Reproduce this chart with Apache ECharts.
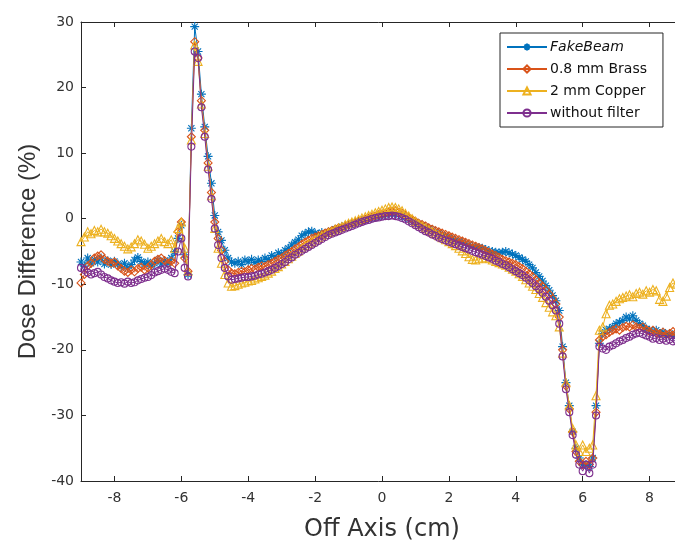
<!DOCTYPE html>
<html>
<head>
<meta charset="utf-8">
<script src="https://cdn.jsdelivr.net/npm/echarts@6.0.0/dist/echarts.min.js"></script>
<style>
html,body{margin:0;padding:0;background:#fff;}
#chart{width:675px;height:544px;}
</style>
</head>
<body>
<div id="chart"></div>
<script>
// Off-axis positions (cm)
const xs = [
-9.0,-8.9,-8.8,-8.7,-8.6,-8.5,-8.4,-8.3,-8.2,-8.1,-8.0,-7.9,-7.8,-7.7,-7.6,-7.5,-7.4,-7.3,-7.2,-7.1,
-7.0,-6.9,-6.8,-6.7,-6.6,-6.5,-6.4,-6.3,-6.2,-6.1,-6.0,-5.9,-5.8,-5.7,-5.6,-5.5,-5.4,-5.3,-5.2,-5.1,
-5.0,-4.9,-4.8,-4.7,-4.6,-4.5,-4.4,-4.3,-4.2,-4.1,-4.0,-3.9,-3.8,-3.7,-3.6,-3.5,-3.4,-3.3,-3.2,-3.1,
-3.0,-2.9,-2.8,-2.7,-2.6,-2.5,-2.4,-2.3,-2.2,-2.1,-2.0,-1.9,-1.8,-1.7,-1.6,-1.5,-1.4,-1.3,-1.2,-1.1,
-1.0,-0.9,-0.8,-0.7,-0.6,-0.5,-0.4,-0.3,-0.2,-0.1,0.0,0.1,0.2,0.3,0.4,0.5,0.6,0.7,0.8,0.9,
1.0,1.1,1.2,1.3,1.4,1.5,1.6,1.7,1.8,1.9,2.0,2.1,2.2,2.3,2.4,2.5,2.6,2.7,2.8,2.9,
3.0,3.1,3.2,3.3,3.4,3.5,3.6,3.7,3.8,3.9,4.0,4.1,4.2,4.3,4.4,4.5,4.6,4.7,4.8,4.9,
5.0,5.1,5.2,5.3,5.4,5.5,5.6,5.7,5.8,5.9,6.0,6.1,6.2,6.3,6.4,6.5,6.6,6.7,6.8,6.9,
7.0,7.1,7.2,7.3,7.4,7.5,7.6,7.7,7.8,7.9,8.0,8.1,8.2,8.3,8.4,8.5,8.6,8.7,8.8,8.9,
9.0
];

// Dose difference (%) per series
const fakeBeam = [
-6.6,-7.2,-6.0,-6.8,-6.2,-6.6,-6.0,-6.9,-6.4,-7.0,-6.5,-6.9,-7.3,-6.8,-7.5,-7.0,-6.3,-5.9,-6.5,-6.9,
-6.6,-7.2,-6.8,-6.3,-6.9,-6.4,-6.8,-6.0,-5.0,-3.0,
-1.0,-5.5,-8.5,13.8,29.3,25.5,19.0,14.0,9.5,5.4,0.5,-2.0,-3.3,-4.8,-6.0,-6.6,
-6.8,-6.5,-7.0,-6.3,-6.6,-6.2,-6.7,-6.3,-6.5,-6.0,
-6.2,-5.6,-5.8,-5.2,-5.4,-4.8,-4.5,-4.0,-3.6,-3.2,
-2.6,-2.3,-2.0,-1.9,-2.2,-2.4,-2.1,-2.3,-2.0,-1.9,
-1.6,-1.5,-1.2,-1.1,-0.9,-0.8,-0.6,-0.5,-0.3,-0.2,
0.0,0.1,0.3,0.4,0.5,0.6,0.7,0.8,0.7,0.6,
0.4,0.2,0.0,-0.3,-0.5,-0.8,-1.0,-1.2,-1.5,-1.7,
-2.0,-2.2,-2.5,-2.7,-2.9,-3.1,-3.3,-3.5,-3.6,-3.8,
-4.0,-4.2,-4.3,-4.4,-4.5,-4.7,-4.9,-5.0,-5.1,-5.2,
-5.1,-5.0,-5.2,-5.4,-5.6,-5.9,-6.2,-6.5,-7.0,-7.5,
-8.2,-8.8,-9.5,-10.2,-10.9,-11.7,-12.5,
-14.0,-19.5,-25.0,-28.5,-32.5,-35.0,-36.5,-37.5,-37.5,-37.8,-36.5,-28.5,-19.0,
-17.5,-17.0,-16.8,-16.5,-16.0,-15.8,-15.5,-15.0,-15.3,-14.8,
-15.5,-16.0,-16.3,-16.8,-17.0,-17.2,-17.0,-17.5,-17.3,-17.8,
-17.5,-18.0,-17.6,-17.8,-18.0
];
const brass = [
-9.8,-8.5,-7.2,-6.8,-6.0,-5.7,-5.5,-6.2,-6.5,-6.8,-6.6,-7.2,-7.6,-8.0,-8.2,-7.8,-8.1,-7.6,-7.4,-7.8,
-7.5,-7.0,-6.5,-6.2,-6.0,-6.4,-6.8,-6.5,-6.8,-2.0,
-0.5,-6.0,-8.0,12.5,27.0,24.5,18.0,13.5,8.5,4.0,-0.5,-3.0,-4.8,-6.5,-7.8,-8.3,
-8.4,-8.2,-8.0,-8.1,-7.8,-7.6,-7.7,-7.4,-7.2,-7.3,
-7.0,-6.8,-6.5,-6.2,-6.0,-5.6,-5.3,-5.0,-4.6,-4.3,
-3.9,-3.6,-3.3,-3.0,-2.8,-2.6,-2.4,-2.2,-2.0,-1.8,
-1.6,-1.4,-1.3,-1.1,-0.9,-0.7,-0.6,-0.4,-0.3,-0.1,
0.1,0.3,0.4,0.6,0.7,0.8,1.0,1.1,1.2,1.0,
0.8,0.5,0.2,-0.1,-0.4,-0.7,-0.9,-1.1,-1.4,-1.6,
-1.8,-2.0,-2.2,-2.4,-2.6,-2.8,-3.0,-3.2,-3.4,-3.6,
-3.8,-4.0,-4.2,-4.4,-4.6,-4.9,-5.1,-5.4,-5.6,-5.9,
-6.2,-6.4,-6.6,-6.8,-7.0,-7.3,-7.6,-8.0,-8.4,-8.8,
-9.3,-9.8,-10.3,-10.9,-11.5,-12.2,-13.0,
-15.0,-20.0,-25.5,-29.0,-32.5,-35.5,-37.0,-37.5,-37.0,-37.5,-36.5,-29.5,-18.5,
-18.0,-17.7,-17.3,-17.0,-16.8,-17.0,-16.6,-16.4,-16.5,-16.2,
-16.5,-16.7,-16.5,-16.9,-17.2,-17.0,-17.4,-17.6,-17.3,-17.7,
-17.5,-17.2,-17.4,-17.0,-16.8
];
const copper = [
-3.5,-2.8,-2.0,-2.3,-1.8,-2.0,-1.6,-2.0,-2.2,-2.6,-3.0,-3.4,-3.8,-4.2,-4.6,-4.3,-3.8,-3.2,-3.4,-3.9,
-4.5,-4.2,-3.8,-3.4,-3.0,-3.5,-3.8,-3.2,-4.5,-1.5,
-0.5,-4.5,-8.0,12.0,26.5,24.0,17.5,13.0,8.0,3.5,-1.5,-4.5,-6.8,-8.5,-9.8,-10.3,
-10.2,-10.0,-9.8,-9.7,-9.5,-9.4,-9.2,-9.0,-8.8,-8.6,
-8.3,-8.0,-7.6,-7.3,-6.9,-6.5,-6.1,-5.7,-5.3,-4.9,
-4.5,-4.1,-3.8,-3.5,-3.2,-2.9,-2.6,-2.4,-2.1,-1.9,
-1.6,-1.4,-1.2,-0.9,-0.7,-0.5,-0.3,-0.1,0.1,0.3,
0.5,0.7,0.9,1.1,1.3,1.5,1.7,1.8,1.7,1.5,
1.2,0.8,0.4,0.0,-0.4,-0.8,-1.1,-1.4,-1.7,-2.0,
-2.3,-2.6,-2.9,-3.2,-3.5,-3.8,-4.1,-4.5,-4.9,-5.3,
-5.8,-6.2,-6.3,-6.1,-6.0,-6.0,-6.1,-6.3,-6.5,-6.7,
-6.9,-7.1,-7.4,-7.7,-8.0,-8.4,-8.8,-9.3,-9.8,-10.3,
-10.8,-11.4,-12.0,-12.8,-13.5,-14.2,-14.8,
-16.5,-20.5,-25.0,-28.5,-32.0,-34.5,-35.5,-34.5,-35.5,-35.0,-34.5,-27.0,-17.0,
-16.5,-14.5,-13.2,-13.0,-12.6,-12.2,-12.0,-11.8,-11.6,-11.9,
-11.4,-11.2,-11.5,-11.0,-11.2,-10.8,-11.0,-12.3,-12.6,-11.8,
-10.5,-9.8,-10.0,-9.6,-9.5
];
const noFilter = [
-7.5,-7.8,-8.2,-8.5,-8.3,-8.1,-8.5,-8.9,-9.1,-9.4,-9.6,-9.8,-9.7,-9.9,-9.6,-9.8,-9.7,-9.4,-9.2,-9.0,
-8.9,-8.6,-8.2,-8.0,-7.8,-7.6,-7.8,-8.1,-8.3,-5.0,
-3.0,-7.5,-8.8,11.0,25.5,24.5,17.0,12.5,7.5,3.0,-1.5,-4.0,-6.0,-7.5,-8.8,-9.3,
-9.2,-9.1,-9.0,-8.9,-8.9,-8.8,-8.7,-8.5,-8.4,-8.2,
-8.0,-7.8,-7.5,-7.2,-6.9,-6.6,-6.2,-5.9,-5.5,-5.2,
-4.9,-4.6,-4.3,-4.0,-3.7,-3.4,-3.1,-2.8,-2.5,-2.3,
-2.1,-1.9,-1.7,-1.5,-1.3,-1.1,-0.9,-0.7,-0.5,-0.3,
-0.2,0.0,0.1,0.2,0.3,0.4,0.4,0.5,0.4,0.3,
0.1,-0.1,-0.4,-0.7,-1.0,-1.3,-1.6,-1.9,-2.1,-2.4,
-2.6,-2.9,-3.1,-3.3,-3.5,-3.7,-3.9,-4.1,-4.3,-4.5,
-4.7,-4.9,-5.1,-5.3,-5.5,-5.7,-5.9,-6.1,-6.4,-6.6,
-6.9,-7.1,-7.4,-7.7,-8.0,-8.3,-8.6,-9.0,-9.4,-9.8,
-10.3,-10.8,-11.3,-11.9,-12.5,-13.2,-14.0,
-16.0,-21.0,-26.0,-29.5,-33.0,-36.0,-37.5,-38.5,-37.5,-38.8,-37.5,-30.0,-19.5,
-19.8,-20.0,-19.5,-19.3,-19.0,-18.7,-18.5,-18.2,-18.0,-17.7,
-17.5,-17.4,-17.6,-17.8,-18.0,-18.3,-18.2,-18.5,-18.3,-18.6,
-18.4,-18.7,-18.5,-18.3,-18.6
];

const seriesNames = ['FakeBeam', '0.8 mm Brass', '2 mm Copper', 'without filter'];
const xTicks = [-8, -6, -4, -2, 0, 2, 4, 6, 8];
const yTicks = [-40, -30, -20, -10, 0, 10, 20, 30];

const colors = ['#0072BD', '#D95319', '#EDB120', '#7E2F8E'];
const symbols = [
  'path://M5,0L5,10M0,5L10,5M1.6,1.6L8.4,8.4M1.6,8.4L8.4,1.6',
  'diamond', 'triangle', 'circle'
];
const sizes = [9, 8, 8, 7];
const allY = [fakeBeam, brass, copper, noFilter];

const chart = echarts.init(document.getElementById('chart'), null, {renderer: 'canvas'});

const series = allY.map((ys, s) => ({
  name: seriesNames[s],
  type: 'line',
  data: xs.map((x, i) => [x, ys[i]]),
  symbol: symbols[s],
  symbolSize: sizes[s],
  showSymbol: true,
  showAllSymbol: true,
  lineStyle: {color: colors[s], width: 1},
  itemStyle: {color: 'rgba(255,255,255,0)', borderColor: colors[s], borderWidth: 1.1},
  emphasis: {disabled: true},
  z: 2 + s,
  animation: false
}));

const tickColor = '#333333';
const axisColor = '#262626';

const option = {
  backgroundColor: '#ffffff',
  animation: false,
  grid: {left: 81, right: -8, top: 22, bottom: 63, containLabel: false, outerBoundsMode: 'none'},
  legend: {
    data: seriesNames,
    orient: 'vertical',
    left: 500, top: 33,
    itemWidth: 40, itemHeight: 9, itemGap: 8,
    padding: [7, 16, 7, 6],
    backgroundColor: '#ffffff',
    borderColor: axisColor, borderWidth: 1, borderRadius: 0,
    textStyle: {fontFamily: 'DejaVu Sans', fontSize: 14, color: '#111', padding: [0,0,0,-2],
      rich: {i: {fontFamily: 'DejaVu Sans', fontSize: 14, fontStyle: 'italic', color: '#111'}}},
    formatter: n => n === 'FakeBeam' ? '{i|FakeBeam}' : n,
    selectedMode: false
  },
  xAxis: [{
    type: 'value', min: -9, max: 9,
    name: 'Off Axis (cm)', nameLocation: 'middle', nameGap: 37,
    nameTextStyle: {fontFamily: 'DejaVu Sans', fontSize: 24, color: tickColor},
    axisLine: {onZero: false, lineStyle: {color: axisColor, width: 1}},
    axisTick: {inside: true, length: 5, customValues: xTicks, lineStyle: {color: axisColor}},
    axisLabel: {customValues: xTicks, margin: 10, fontFamily: 'DejaVu Sans', fontSize: 14, color: tickColor},
    splitLine: {show: false}
  }, {
    type: 'value', min: -9, max: 9, position: 'top',
    axisLine: {onZero: false, lineStyle: {color: axisColor, width: 1}},
    axisTick: {inside: true, length: 5, customValues: xTicks, lineStyle: {color: axisColor}},
    axisLabel: {show: false},
    splitLine: {show: false}
  }],
  yAxis: [{
    type: 'value', min: -40, max: 30, interval: 10,
    name: 'Dose Difference (%)', nameLocation: 'middle', nameGap: 31,
    nameTextStyle: {fontFamily: 'Liberation Sans', fontSize: 24, color: tickColor},
    axisLine: {show: true, onZero: false, lineStyle: {color: axisColor, width: 1}},
    axisTick: {show: true, inside: true, length: 5, lineStyle: {color: axisColor}},
    axisLabel: {margin: 7, fontFamily: 'DejaVu Sans', fontSize: 14, color: tickColor,
      customValues: yTicks},
    splitLine: {show: false}
  }],
  series: series
};
chart.setOption(option);
</script>
</body>
</html>
